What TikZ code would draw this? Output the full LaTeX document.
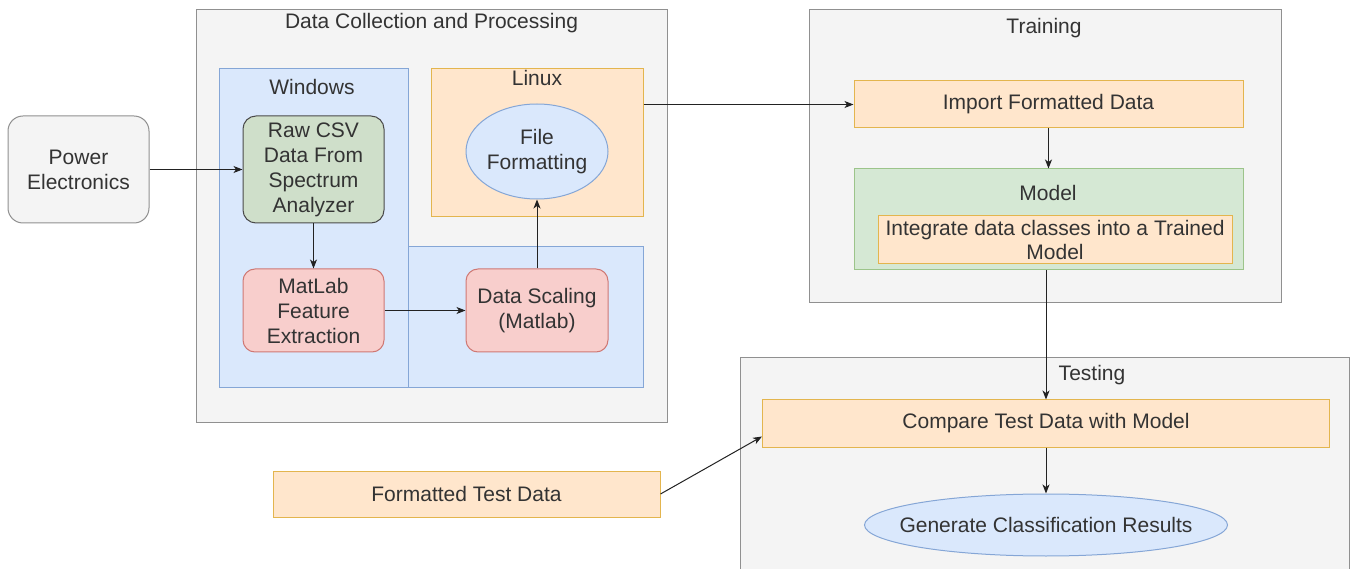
\documentclass[tikz,border=0pt]{standalone}
\usepackage{fontspec}
\setmainfont{Liberation Sans}
\usetikzlibrary{shapes.geometric,arrows.meta,calc}

\definecolor{txt}{HTML}{333333}
\definecolor{grayfill}{HTML}{F4F4F4}
\definecolor{graydraw}{HTML}{909090}
\definecolor{bluefill}{HTML}{DAE8FC}
\definecolor{bluedraw}{HTML}{85A6D6}
\definecolor{orangefill}{HTML}{FFE6CC}
\definecolor{orangedraw}{HTML}{E3B54E}
\definecolor{greenfill}{HTML}{D5E8D4}
\definecolor{greendraw}{HTML}{9CC48A}
\definecolor{csvfill}{HTML}{CFDFCA}
\definecolor{csvdraw}{HTML}{4A4A4A}
\definecolor{redfill}{HTML}{F8CECC}
\definecolor{reddraw}{HTML}{CF7874}
\definecolor{wire}{HTML}{222222}

\newcommand{\labelfont}{\fontsize{21}{25}\selectfont}

\tikzset{
  box/.style={rectangle, inner sep=0pt, line width=1pt, text=txt,
    font=\labelfont, align=center},
  graybox/.style={box, fill=grayfill, draw=graydraw},
  bluebox/.style={box, fill=bluefill, draw=bluedraw},
  orangebox/.style={box, fill=orangefill, draw=orangedraw},
  greenbox/.style={box, fill=greenfill, draw=greendraw},
  csvbox/.style={box, fill=csvfill, draw=csvdraw, rounded corners=13pt},
  redbox/.style={box, fill=redfill, draw=reddraw, rounded corners=12pt},
  pebox/.style={box, fill=grayfill, draw=graydraw, rounded corners=15pt},
  oval/.style={box, ellipse, fill=bluefill, draw=bluedraw},
  title/.style={text=txt, font=\labelfont, inner sep=0pt},
  flow/.style={draw=wire, line width=1pt,
    -{Stealth[length=9pt,width=7pt,inset=2.5pt]}}
}

\begin{document}
\begin{tikzpicture}[x=1pt,y=-1pt]
\useasboundingbox (0,0) rectangle (1353,569);

% --- Data collection and processing ---
\node[graybox, minimum width=471, minimum height=413] (dcp) at (431.5,216.5) {};
\node[title] (dcpt) at (431.5,23) {Data Collection and Processing};

\node[bluebox, minimum width=189, minimum height=319] (win) at (313.5,228.5) {};
\node[bluebox, minimum width=235, minimum height=141] (lowblue) at (525.5,317.5) {};
\node[title] (wint) at (312,87) {Windows};

\node[orangebox, minimum width=212, minimum height=148] (linux) at (537,143) {};
\node[title] (linuxt) at (537,78) {Linux};

\node[csvbox, minimum width=141, minimum height=107] (raw) at (313.5,169.5)
  {Raw CSV\\Data From\\Spectrum\\Analyzer};
\node[redbox, minimum width=141, minimum height=83] (mat) at (313.5,310.5)
  {MatLab\\Feature\\Extraction};
\node[redbox, minimum width=142, minimum height=83] (scl) at (537,310.5)
  {Data Scaling\\(Matlab)};
\node[oval, minimum width=142, minimum height=95] (ff) at (537,151.5)
  {File\\Formatting};

% --- source ---
\node[pebox, minimum width=141, minimum height=107] (pe) at (78.5,169.5)
  {Power\\Electronics};

% --- Training ---
\node[graybox, minimum width=472, minimum height=293] (train) at (1045,156.5) {};
\node[title] (traint) at (1044,28) {Training};
\node[orangebox, minimum width=389, minimum height=47] (imp) at (1048.5,104.5)
  {Import Formatted Data};
\node[greenbox, minimum width=389, minimum height=101] (model) at (1048.5,219.5) {};
\node[title] (modelt) at (1048,193) {Model};
\node[orangebox, minimum width=354, minimum height=48] (integ) at (1055,240)
  {Integrate data classes into a Trained\\[-1pt]Model};

% --- Testing (runs past the lower edge) ---
\node[box, fill=grayfill, minimum width=608, minimum height=212] (test) at (1045,464) {};
\draw[graydraw, line width=1pt] (test.south west) -- (test.north west)
  -- (test.north east) -- (test.south east);
\node[title] (testt) at (1092,375) {Testing};
\node[orangebox, minimum width=567, minimum height=47] (cmp) at (1046,423.5)
  {Compare Test Data with Model};
\node[oval, inner xsep=-20pt, minimum width=363, minimum height=62] (gen) at (1046,525)
  {Generate Classification Results};

\node[orangebox, minimum width=387, minimum height=46] (ftd) at (466.5,494)
  {Formatted Test Data};

% --- connectors ---
\draw[flow] (pe.east) -- (raw.west);
\draw[flow] (raw.south) -- (mat.north);
\draw[flow] (mat.east) -- (scl.west);
\draw[flow] (scl.north) -- (ff.south);
\draw[flow] (linux.east |- imp.west) -- (imp.west);
\draw[flow] (imp.south) -- (model.north);
\draw[flow] ([xshift=-2.5pt]model.south) -- ([xshift=-2.5pt]model.south |- cmp.north);
\draw[flow] (cmp.south) -- (gen.north);
\draw[flow] (ftd.east) -- ([yshift=-13pt]cmp.west);
\end{tikzpicture}
\end{document}
